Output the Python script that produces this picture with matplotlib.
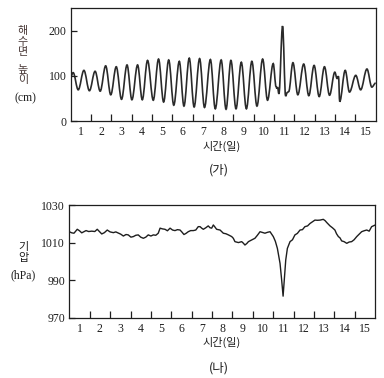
import matplotlib
matplotlib.use("Agg")
import matplotlib.pyplot as plt
from matplotlib.path import Path
from matplotlib.patches import PathPatch

# (가) 해수면 높이: 극값(마루/골)의 시각(일)과 높이(cm)
sea_t = [0.00, 0.12, 0.37, 0.65, 0.92, 1.20, 1.45, 1.72, 1.97, 2.24, 2.50, 2.77,
         3.01, 3.29, 3.52, 3.78, 4.06, 4.32, 4.57, 4.82, 5.07, 5.34, 5.57, 5.83,
         6.07, 6.34, 6.58, 6.87, 7.11, 7.40, 7.64, 7.88, 8.13, 8.39, 8.64, 8.91,
         9.16, 9.44, 9.68, 9.96, 10.10, 10.14, 10.17, 10.24, 10.42, 10.57, 10.65,
         10.72, 10.93, 11.17, 11.46, 11.71, 11.97, 12.22, 12.48, 12.73, 12.99,
         13.10, 13.17, 13.23, 13.50, 13.71, 14.02, 14.26, 14.57, 14.81, 15.00]
sea_h = [98, 107, 69, 112, 67, 110, 66, 122, 58, 120, 48, 124,
         47, 124, 47, 134, 46, 137, 42, 135, 35, 132, 33, 139,
         31, 138, 30, 136, 27, 135, 26, 134, 27, 130, 27, 132,
         33, 137, 46, 127, 76, 72, 75, 60, 210, 55, 63,
         65, 129, 58, 126, 56, 123, 54, 120, 57, 108,
         94, 99, 43, 112, 64, 101, 69, 115, 75, 84]

# (나) 기압(hPa)
air_t = [0.0, 0.12, 0.23, 0.39, 0.5, 0.61, 0.82, 0.95, 1.10, 1.25, 1.37, 1.59, 1.72,
         1.86, 2.0, 2.16, 2.28, 2.40, 2.52, 2.65, 2.78, 2.89, 3.02, 3.14, 3.26, 3.38,
         3.50, 3.63, 3.75, 3.87, 4.0, 4.12, 4.24, 4.36, 4.45, 4.57, 4.69, 4.81, 4.94,
         5.06, 5.18, 5.30, 5.43, 5.53, 5.62, 5.72, 5.83, 5.95, 6.08, 6.20, 6.32, 6.41,
         6.49, 6.57, 6.69, 6.81, 6.90, 6.98, 7.06, 7.14, 7.22, 7.39, 7.55, 7.68, 7.80,
         7.96, 8.04, 8.12, 8.29, 8.45, 8.53, 8.61, 8.70, 8.78, 8.94, 9.10, 9.22, 9.35,
         9.47, 9.59, 9.72, 9.84, 9.92, 10.00, 10.10, 10.20, 10.33, 10.41, 10.48, 10.54,
         10.61, 10.69, 10.82, 10.94, 11.06, 11.18, 11.31, 11.43, 11.55, 11.68, 11.80,
         11.92, 12.04, 12.16, 12.29, 12.45, 12.54, 12.62, 12.78, 12.90, 13.02, 13.10,
         13.19, 13.27, 13.35, 13.47, 13.60, 13.72, 13.84, 13.96, 14.09, 14.21, 14.33,
         14.45, 14.58, 14.70, 14.82, 14.90, 15.0]
air_p = [1015.9, 1015.3, 1015.1, 1017.2, 1016.4, 1015.3, 1016.5, 1016.0, 1016.2, 1016.0,
         1017.2, 1014.7, 1015.4, 1016.8, 1015.8, 1015.4, 1015.8, 1015.2, 1014.6, 1013.6,
         1014.4, 1014.2, 1013.0, 1013.3, 1014.0, 1014.2, 1013.0, 1012.4, 1013.0, 1014.2,
         1013.6, 1014.2, 1014.0, 1015.1, 1017.8, 1017.4, 1017.2, 1016.4, 1017.8, 1016.8,
         1016.5, 1017.0, 1016.8, 1015.6, 1014.4, 1015.0, 1015.9, 1016.5, 1016.5, 1016.8,
         1018.6, 1018.6, 1017.8, 1017.2, 1018.0, 1019.0, 1018.0, 1017.8, 1019.5, 1018.4,
         1017.2, 1016.8, 1015.1, 1014.8, 1014.2, 1013.3, 1012.4, 1010.6, 1010.1, 1010.6,
         1009.8, 1008.8, 1009.6, 1010.6, 1011.5, 1012.4, 1014.0, 1015.9, 1015.5, 1015.1,
         1015.6, 1015.9, 1014.6, 1013.3, 1010.8, 1007.0, 999.0, 990.1, 981.5, 990.1,
         1000.8, 1007.0, 1010.6, 1011.6, 1014.2, 1015.0, 1016.8, 1017.0, 1018.6, 1019.0,
         1020.3, 1021.2, 1022.1, 1022.0, 1022.1, 1022.5, 1021.8, 1020.8, 1019.0, 1018.0,
         1016.8, 1014.8, 1013.3, 1012.6, 1011.0, 1010.6, 1009.7, 1010.4, 1010.6, 1011.6,
         1013.3, 1014.6, 1015.9, 1016.4, 1016.8, 1016.2, 1018.6, 1019.0, 1019.5]

days = list(range(1, 16))
ink = "#1e1e1e"
serif = ["Liberation Serif", "DejaVu Serif"]
kor = ["Noto Sans CJK KR", "DejaVu Sans"]

fig = plt.figure(figsize=(3.84, 3.78), dpi=100)
W, H = 384, 378


def ftext(x, y, s, fam, size, color=ink):
    fig.text(x / W, 1 - y / H, s, family=fam, fontsize=size, color=color,
             ha="center", va="center")


def style_axes(ax, yticks):
    ax.set_xlim(0, 15)
    ax.set_xticks(days[:-1])
    ax.set_xticklabels([])
    ax.set_xticks([d - 0.5 for d in days], minor=True)
    ax.set_xticklabels([str(d) for d in days], minor=True, family=serif, fontsize=8.5, color=ink)
    ax.tick_params(axis="x", which="major", direction="in", length=5, width=0.9, color=ink)
    ax.tick_params(axis="x", which="minor", length=0, pad=3.5)
    ax.set_yticks(yticks)
    ax.set_yticklabels([str(v) for v in yticks], family=serif, fontsize=8.5, color=ink)
    ax.tick_params(axis="y", direction="in", length=4, width=0.9, color=ink, pad=3)
    for s in ax.spines.values():
        s.set_linewidth(0.9)
        s.set_color(ink)


# (가) - 마루와 골을 수평 접선의 곡선으로 이음
ax1 = fig.add_axes([70.7 / W, 1 - 121 / H, 305 / W, 113 / H])
verts = [(sea_t[0], sea_h[0])]
codes = [Path.MOVETO]
k = 0.36
for i in range(len(sea_t) - 1):
    dt = sea_t[i + 1] - sea_t[i]
    verts += [(sea_t[i] + k * dt, sea_h[i]), (sea_t[i + 1] - k * dt, sea_h[i + 1]),
              (sea_t[i + 1], sea_h[i + 1])]
    codes += [Path.CURVE4] * 3
ax1.add_patch(PathPatch(Path(verts, codes), fill=False, lw=1.2, edgecolor="#2a2a2a"))
ax1.set_ylim(0, 250)
style_axes(ax1, [0, 100, 200])

# (나)
ax2 = fig.add_axes([69.3 / W, 1 - 317.7 / H, 306 / W, 112.4 / H])
ax2.plot(air_t, air_p, color=ink, lw=1.0)
ax2.set_ylim(970, 1030)
style_axes(ax2, [970, 990, 1010, 1030])

# 세로 축 제목 (글자를 세로로 쌓음)
label_c = "#4a3a38"
for ch, y in [("해", 31), ("수", 41.5), ("면", 52), ("높", 69.5), ("이", 80)]:
    ftext(23, y, ch, kor, 8, label_c)
ftext(25, 98.5, "(cm)", serif, 8.5)
for ch, y in [("기", 247), ("압", 257.5)]:
    ftext(23, y, ch, kor, 8)
ftext(23.5, 275.5, "(hPa)", serif, 8.5)

ftext(222, 146, "시간(일)", kor, 8)
ftext(222, 342, "시간(일)", kor, 8)
ftext(219, 170, "(가)", kor, 9)
ftext(219, 368, "(나)", kor, 9)

fig.savefig("out.png", dpi=100)
